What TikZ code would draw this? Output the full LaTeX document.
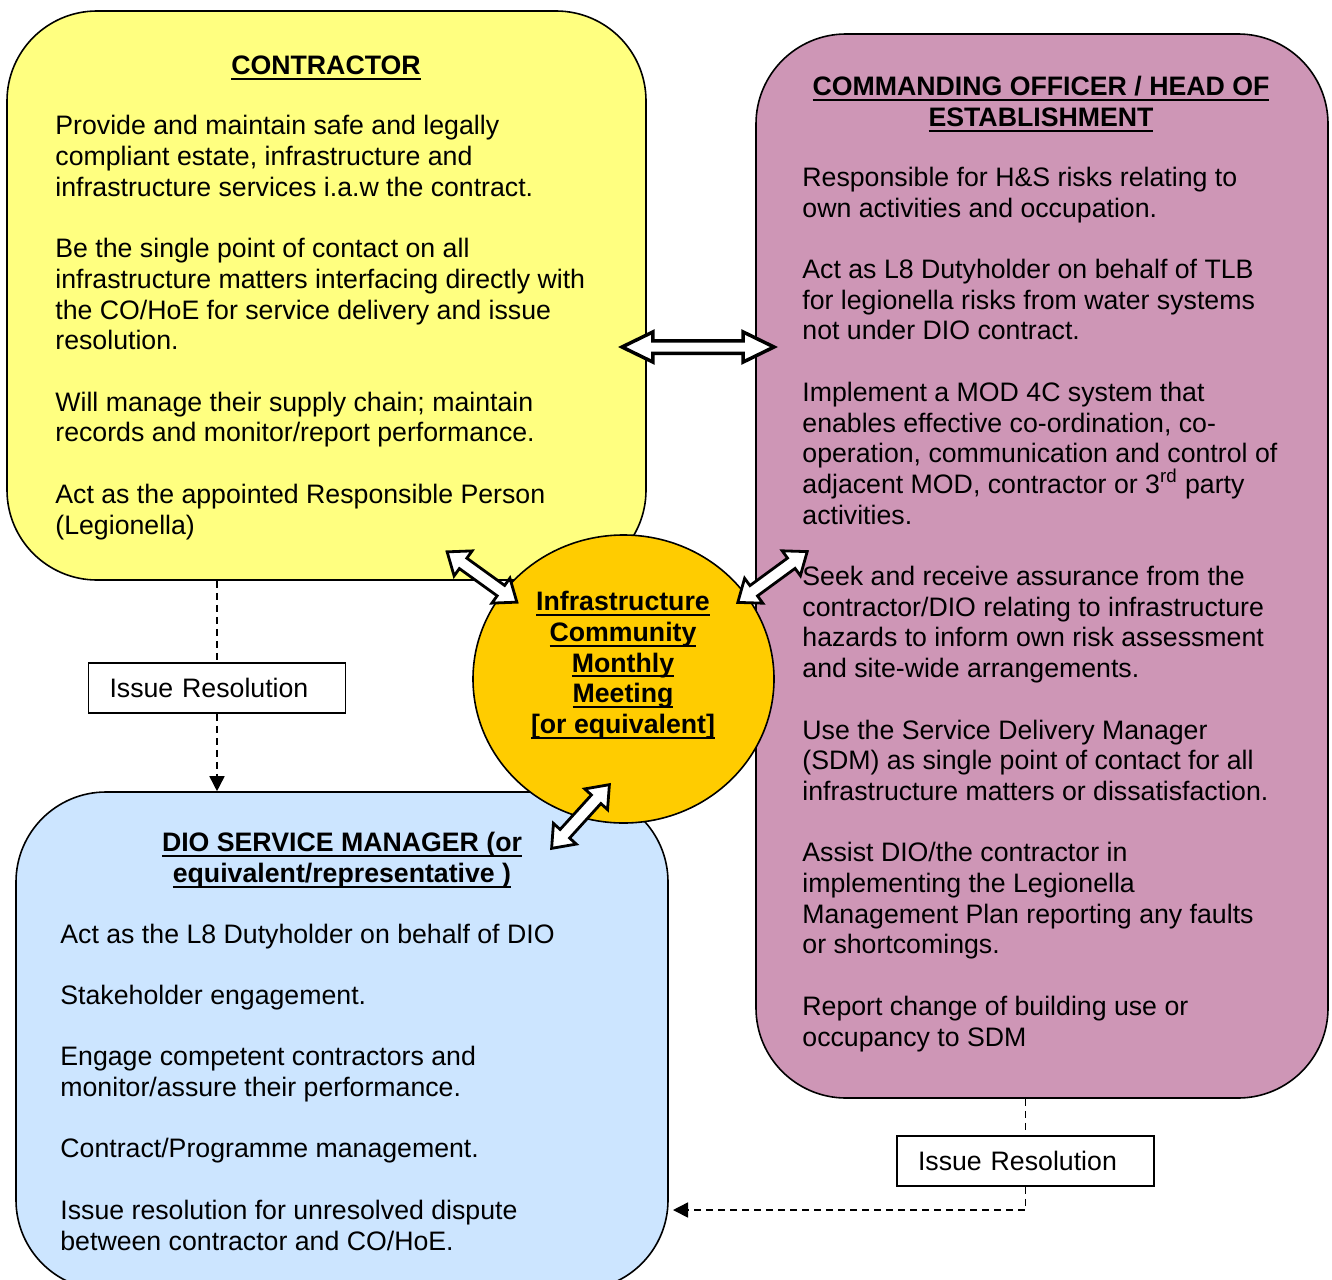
\documentclass[tikz,border=0pt]{standalone}
\usepackage{fontspec}
\setmainfont{Liberation Sans}
\usepackage{tikz}
\usetikzlibrary{shapes.geometric, shapes.arrows, arrows.meta}
\definecolor{contractorfill}{RGB}{255,255,128}
\definecolor{officerfill}{RGB}{206,150,182}
\definecolor{diofill}{RGB}{204,229,255}
\definecolor{meetingfill}{RGB}{255,204,0}
\newcommand{\diagfont}{\fontsize{13.35}{15.35}\selectfont}
\newcommand{\ulined}[1]{\setbox0\hbox{#1}\rlap{\rule[-2.6pt]{\wd0}{1pt}}\box0}

\begin{document}
\begin{tikzpicture}[x=0.5pt, y=-0.5pt, font=\diagfont,
  box/.style = {draw, line width=0.8pt, rounded corners=45pt, inner sep=0pt},
  heading/.style = {font=\diagfont\bfseries, align=center, anchor=base, inner sep=0pt},
  body/.style = {align=left, anchor=base west, inner sep=0pt},
  issue/.style = {draw, line width=0.8pt, minimum height=25pt, text width=107.5pt, inner xsep=10.5pt, align=left},
  link/.style = {line width=0.8pt, dash pattern=on 3.5pt off 2.5pt},
  twoway/.style = {double arrow, draw, fill=white, inner sep=0pt, line join=miter},
  smallway/.style = {twoway, line width=1.4pt, minimum height=43pt, text height=2.5pt, text depth=2.5pt, double arrow head extend=4.5pt, double arrow tip angle=76}]
  \useasboundingbox (0,0) rectangle (1332,1279);
  \clip (0,0) rectangle (1332,1279);
  \node[box, fill=contractorfill, minimum width=319.5pt, minimum height=284.5pt] (contractor) at (326.5,295.5) {};
  \node[box, fill=officerfill, minimum width=286pt, minimum height=532pt] (officer) at (1042,566) {};
  \node[box, fill=diofill, minimum width=326pt, minimum height=249pt] (dio) at (342,1041) {};
  \node[issue] (issueLeft) at (217,688) {Issue Resolution};
  \node[issue] (issueRight) at (1025.5,1161) {Issue Resolution};
  \coordinate (dioEntry) at (673,1210);
  \draw[link] (contractor.south -| issueLeft) -- (issueLeft.north);
  \draw[link, -{Triangle[width=7.5pt, length=7.5pt]}] (issueLeft.south) -- (issueLeft.south |- dio.north);
  \draw[link] (officer.south -| issueRight) -- (issueRight.north);
  \draw[link, -{Triangle[width=7.5pt, length=7.5pt]}] (issueRight.south) |- (dioEntry);
  \node[ellipse, draw, line width=0.8pt, fill=meetingfill, minimum width=150.5pt, minimum height=144pt, inner sep=0pt] (meeting) at (623.5,679) {};
  \node[twoway, line width=1.75pt, minimum height=76pt, text height=2.25pt, text depth=2.25pt, double arrow head extend=4.4pt, double arrow tip angle=52] (arrowOfficer) at (698,347) {};
  \node[smallway, rotate=-35.8] (arrowContractor) at (482,577) {};
  \node[smallway, rotate=36.2] (arrowMeeting) at (772.5,577) {};
  \node[smallway, rotate=47.8] (arrowDio) at (580.5,816.5) {};
  \node[heading] (contractorTitle) at (326,74.5) {\ulined{CONTRACTOR}};
  \node[body] (contractorText) at (55,534) {Provide and maintain safe and legally\\compliant estate, infrastructure and\\infrastructure services i.a.w the contract.\\[15.35pt]Be the single point of contact on all\\infrastructure matters interfacing directly with\\the CO/HoE for service delivery and issue\\resolution.\\[15.35pt]Will manage their supply chain; maintain\\records and monitor/report performance.\\[15.35pt]Act as the appointed Responsible Person\\(Legionella)};
  \node[heading] (officerTitle) at (1041,126.5) {\ulined{COMMANDING OFFICER / HEAD OF}\\\ulined{ESTABLISHMENT}};
  \node[body] (officerText) at (802,1046) {Responsible for H\&S risks relating to\\own activities and occupation.\\[15.35pt]Act as L8 Dutyholder on behalf of TLB\\for legionella risks from water systems\\not under DIO contract.\\[15.35pt]Implement a MOD 4C system that\\enables effective co-ordination, co-\\operation, communication and control of\\adjacent MOD, contractor or 3\textsuperscript{rd} party\\activities.\\[15.35pt]Seek and receive assurance from the\\contractor/DIO relating to infrastructure\\hazards to inform own risk assessment\\and site-wide arrangements.\\[15.35pt]Use the Service Delivery Manager\\(SDM) as single point of contact for all\\infrastructure matters or dissatisfaction.\\[15.35pt]Assist DIO/the contractor in\\implementing the Legionella\\Management Plan reporting any faults\\or shortcomings.\\[15.35pt]Report change of building use or\\occupancy to SDM};
  \node[heading] (dioTitle) at (342,882.5) {\ulined{DIO SERVICE MANAGER (or}\\\ulined{equivalent/representative )}};
  \node[body] (dioText) at (60,1250) {Act as the L8 Dutyholder on behalf of DIO\\[15.35pt]Stakeholder engagement.\\[15.35pt]Engage competent contractors and\\monitor/assure their performance.\\[15.35pt]Contract/Programme management.\\[15.35pt]Issue resolution for unresolved dispute\\between contractor and CO/HoE.};
  \node[heading] (meetingText) at (623,733.5) {\ulined{Infrastructure}\\\ulined{Community}\\\ulined{Monthly}\\\ulined{Meeting}\\\ulined{[or equivalent]}};
\end{tikzpicture}
\end{document}
